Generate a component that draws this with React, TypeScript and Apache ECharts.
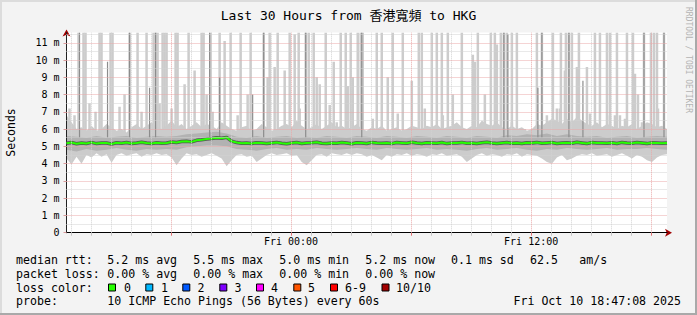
import React, { useEffect, useRef } from 'react';
import * as echarts from 'echarts';

// ---------- text ----------
const TITLE = 'Last 30 Hours from 香港寬頻 to HKG';
const Y_NAME = 'Seconds';
const WATERMARK = 'RRDTOOL / TOBI OETIKER';

// ---------- time frame (hours relative to Fri 00:00) ----------
const END_HOUR = 18 + 47 / 60 + 8 / 3600; // Fri Oct 10 18:47:08 2025
const SPAN_HOURS = 30;
const START_HOUR = END_HOUR - SPAN_HOURS;
const STEP_HOURS = 0.25; // smoke / median sample step
const Q_STEP_HOURS = 0.5; // inner-band sample step
const Y_MAX = 11.6;

const X_LABEL_HOURS = [0, 12];
const X_LABELS = ['Fri 00:00', 'Fri 12:00'];
const MINOR_X_GRID = [-11, -10, -9, -8, -7, -5, -4, -3, -2, -1, 1, 2, 3, 4, 5, 7, 8, 9, 10, 11, 13, 14, 15, 16, 17];
const MAJOR_X_GRID = [-6, 0, 6, 12, 18];
const Y_TICKS = [0, 1, 2, 3, 4, 5, 6, 7, 8, 9, 10, 11];
const MAJOR_Y_GRID = [1, 2, 3, 4, 5, 6, 7, 8, 9, 10, 11];
const MINOR_Y_GRID = [0.5, 1.5, 2.5, 3.5, 4.5, 5.5, 6.5, 7.5, 8.5, 9.5, 10.5, 11.5];

// ---------- data (ms) ----------
const MEDIAN = [
  5.18, 5.22, 5.15, 5.2, 5.17, 5.23, 5.16, 5.2, 5.19, 5.14, 5.21, 5.18, 5.22, 5.17, 5.2, 5.24, 5.19, 5.16, 5.21, 5.18,
  5.2, 5.25, 5.22, 5.28, 5.3, 5.26, 5.35, 5.38, 5.42, 5.45, 5.5, 5.47, 5.52, 5.3, 5.22, 5.18, 5.2, 5.17, 5.21, 5.19,
  5.16, 5.2, 5.23, 5.18, 5.15, 5.2, 5.22, 5.17, 5.19, 5.21, 5.24, 5.18, 5.16, 5.2, 5.18, 5.22, 5.19, 5.15, 5.21, 5.2,
  5.17, 5.23, 5.19, 5.18, 5.2, 5.16, 5.22, 5.2, 5.18, 5.24, 5.19, 5.17, 5.21, 5.2, 5.18, 5.22, 5.16, 5.2, 5.19, 5.23,
  5.18, 5.2, 5.17, 5.21, 5.24, 5.19, 5.16, 5.2, 5.22, 5.18, 5.2, 5.17, 5.21, 5.19, 5.23, 5.18, 5.2, 5.22, 5.17, 5.19,
  5.21, 5.18, 5.24, 5.2, 5.16, 5.22, 5.19, 5.2, 5.18, 5.21, 5.17, 5.23, 5.2, 5.18, 5.22, 5.19, 5.16, 5.21, 5.2, 5.18, 5.2,
];
const SMOKE_MIN = [
  4.3, 3.95, 4.4, 4.0, 4.5, 4.35, 4.6, 4.4, 4.55, 4.05, 4.5, 4.6, 4.45, 4.55, 4.6, 4.4, 4.55, 4.5, 4.6, 4.5,
  4.55, 4.35, 3.9, 4.3, 4.6, 4.5, 4.55, 4.4, 4.5, 4.6, 4.45, 4.3, 3.85, 4.2, 4.5, 4.55, 4.4, 4.45, 4.1, 4.3,
  4.5, 4.6, 4.5, 4.55, 4.6, 4.45, 4.5, 4.1, 3.9, 4.2, 4.5, 4.55, 4.4, 4.6, 4.55, 4.5, 4.6, 4.5, 4.6, 4.55,
  4.4, 4.5, 4.35, 4.2, 4.5, 4.4, 4.55, 4.5, 4.6, 4.45, 4.55, 4.5, 4.4, 4.55, 4.5, 4.6, 4.45, 4.5, 4.55, 4.4,
  4.1, 4.3, 4.5, 4.6, 4.45, 4.55, 4.5, 4.4, 4.55, 4.5, 4.6, 4.4, 4.55, 4.5, 4.45, 4.3, 4.1, 4.0, 4.35, 4.5,
  4.2, 4.3, 4.45, 4.55, 4.5, 4.6, 4.45, 4.5, 4.55, 4.4, 4.5, 4.6, 4.45, 4.3, 4.5, 4.4, 4.2, 4.1, 4.35, 4.5, 4.55,
];
const SMOKE_MAX = [
  6.8, 6.4, 6.0, 6.1, 5.9, 6.2, 5.9, 6.0, 6.3, 6.1, 5.9, 6.0, 5.8, 6.1, 6.3, 6.0, 6.2, 6.4, 6.1, 6.0,
  6.2, 6.5, 6.1, 6.3, 6.0, 6.2, 6.4, 6.1, 6.3, 6.2, 6.0, 6.4, 6.2, 6.0, 5.9, 6.1, 6.2, 5.9, 6.0, 6.3,
  6.1, 5.9, 6.0, 6.2, 6.3, 6.1, 6.5, 6.2, 6.0, 6.1, 6.3, 6.0, 6.2, 6.4, 6.1, 6.2, 6.0, 6.1, 6.3, 6.0,
  5.9, 6.1, 6.0, 6.2, 5.9, 6.0, 6.1, 5.9, 6.0, 6.2, 6.1, 6.0, 6.2, 6.1, 6.3, 6.0, 6.1, 6.2, 6.4, 6.1,
  6.0, 6.2, 6.1, 6.5, 6.3, 6.2, 6.4, 6.1, 6.0, 6.2, 6.0, 6.1, 5.9, 6.0, 6.3, 6.2, 6.4, 6.6, 6.5, 6.3,
  6.6, 6.4, 6.7, 6.5, 6.3, 6.2, 6.4, 6.1, 6.3, 6.2, 6.0, 6.2, 6.1, 6.3, 6.0, 6.2, 6.4, 6.3, 6.1, 6.2, 6.0,
];
const SMOKE_Q25 = [
  4.8, 4.7, 4.85, 4.75, 4.8, 4.9, 4.8, 4.75, 4.85, 4.8,
  4.85, 4.8, 4.95, 5.0, 5.05, 5.05, 5.0, 4.85, 4.8, 4.75,
  4.85, 4.9, 4.8, 4.85, 4.8, 4.9, 4.85, 4.8, 4.85, 4.9,
  4.85, 4.8, 4.9, 4.85, 4.8, 4.85, 4.9, 4.8, 4.85, 4.8,
  4.75, 4.85, 4.9, 4.8, 4.85, 4.9, 4.8, 4.75, 4.85, 4.8,
  4.9, 4.85, 4.8, 4.85, 4.9, 4.8, 4.85, 4.85, 4.9, 4.85, 4.8,
];
const SMOKE_Q75 = [
  5.6, 5.55, 5.5, 5.6, 5.5, 5.55, 5.6, 5.5, 5.55, 5.6,
  5.55, 5.6, 5.7, 5.75, 5.8, 5.85, 5.75, 5.55, 5.5, 5.6,
  5.5, 5.55, 5.6, 5.5, 5.55, 5.5, 5.6, 5.55, 5.5, 5.6,
  5.55, 5.5, 5.6, 5.55, 5.5, 5.6, 5.55, 5.5, 5.6, 5.55,
  5.5, 5.6, 5.55, 5.5, 5.65, 5.6, 5.7, 5.65, 5.75, 5.6,
  5.7, 5.6, 5.55, 5.6, 5.5, 5.55, 5.6, 5.5, 5.55, 5.6, 5.55,
];
// hours since start of window where outlier pings went off the scale
const SPIKE_HOURS = [
  0.6, 0.85, 0.95, 1.65, 1.75, 2.2, 2.3, 3.15, 3.55, 4.0, 4.35, 4.45, 4.55, 4.8, 4.9, 5.0, 5.45, 5.55, 6.1, 6.75,
  6.85, 7.2, 7.65, 8.2, 8.7, 9.2, 9.85, 10.15, 10.55, 11.15, 11.6, 11.95, 12.1, 12.35, 12.95, 13.7, 13.95, 14.2, 14.55, 14.7,
  14.8, 15.5, 15.75, 16.3, 16.8, 17.6, 17.75, 18.25, 18.5, 18.75, 19.05, 19.75, 20.55, 21.2, 21.4, 21.7, 21.85, 22.0, 22.25, 22.5,
  23.5, 23.75, 24.3, 24.7, 24.95, 25.1, 25.25, 25.6, 26.4, 26.65, 27.0, 27.15, 27.5, 28.0, 28.3, 28.85, 29.2, 29.35, 29.5, 29.85,
];
const SPIKE_DARK_HOURS = [0.65, 3.15, 4.45, 7.15, 9.85, 11.95, 14.75, 21.85, 23.75, 25.1, 28.85, 29.85];
const PARTIAL_HOURS = [
  0.15, 0.4, 1.15, 1.45, 2.65, 2.9, 3.75, 4.65, 5.25, 5.9, 6.4, 7.0, 7.3, 7.9, 8.55, 9.05, 9.65, 10.05, 10.4, 10.9,
  11.4, 11.65, 12.5, 12.65, 13.15, 13.35, 13.5, 14.05, 14.3, 14.8, 15.3, 16.05, 16.55, 17.25, 17.9, 18.8, 19.3, 20.3, 20.4, 20.9,
  21.5, 22.25, 22.9, 24.0, 24.5, 24.65, 24.9, 25.5, 26.0, 26.15, 27.15, 27.4, 27.65, 27.9, 28.4, 28.55, 28.75, 29.55,
];
const PARTIAL_TOP = [
  7.2, 6.8, 7.5, 7.0, 7.3, 8.0, 7.0, 7.5, 7.2, 8.6, 9.4, 8.0, 7.0, 11.1, 6.8, 8.0, 6.1, 9.0, 9.6, 9.4,
  11.5, 7.2, 9.0, 8.6, 7.4, 9.9, 6.4, 8.5, 9.0, 6.8, 6.6, 9.0, 6.9, 8.8, 7.2, 6.8, 8.0, 10.3, 9.9, 8.0,
  10.9, 6.4, 6.0, 6.8, 7.2, 7.2, 9.4, 9.6, 9.6, 6.9, 6.8, 6.8, 6.8, 6.6, 9.2, 8.0, 6.4, 7.2,
];
const PARTIAL_DARK_HOURS = [2.05, 4.15, 7.65, 9.3, 22.05, 23.55, 25.8];
const PARTIAL_DARK_TOP = [9.9, 8.4, 9.0, 8.0, 11.5, 8.4, 8.8];
const SPIKE_BASE = 5.5;

// ---------- legend ----------
const STAT_LABELS = ['median rtt:', 'packet loss:', 'loss color:', 'probe:'];
const RTT_STATS = ['5.2 ms avg', '5.5 ms max', '5.0 ms min', '5.2 ms now', '0.1 ms sd', '62.5', 'am/s'];
const LOSS_STATS = ['0.00 % avg', '0.00 % max', '0.00 % min', '0.00 % now'];
const LOSS_LABELS = ['0', '1', '2', '3', '4', '5', '6-9', '10/10'];
const LOSS_COLORS = ['#26ff00', '#00b8ff', '#0059ff', '#7e00ff', '#ff00ff', '#ff5500', '#ff0000', '#a10000'];
const PROBE_TEXT = '10 ICMP Echo Pings (56 Bytes) every 60s';
const DATE_TEXT = 'Fri Oct 10 18:47:08 2025';

// ---------- styles ----------
const MONO = '"DejaVu Sans Mono", monospace';
const TITLE_FONT = '"DejaVu Sans Mono", "Noto Sans CJK TC", monospace';
const GRID_GRAY = '#d2d2d2';
const GRID_RED = '#eaa8a8';
const LIGHT_SMOKE = '#cccccc';
const MID_SMOKE = '#b2b2b2';
const DARK_SMOKE = '#8c8c8c';
const RTT_X = [107.3, 193.3, 279.3, 365.3, 451, 530, 579.3];
const LOSS_BOX_X = [108, 145.3, 182.3, 219.3, 256, 293.3, 330, 381.5];
const LOSS_TEXT_X = [124, 161, 197.5, 234.5, 271, 308, 345, 396];
const ROW_Y = [259.5, 273.5, 287.5, 301];

const tAt = (i: number, step: number) => START_HOUR + i * step;

function buildOption() {
  const smokeX = SMOKE_MIN.map((_, i) => tAt(i, STEP_HOURS));
  const qX = SMOKE_Q25.map((_, i) => tAt(i, Q_STEP_HOURS));
  const medianPts = MEDIAN.map((v, i) => [tAt(i, STEP_HOURS), v]);

  const bandSeries = (name: string, xs: number[], lo: number[], hi: number[], color: string, z: number) => ({
    name,
    type: 'custom',
    clip: true,
    silent: true,
    z,
    encode: { x: 0, y: [1, 2] },
    data: xs.map((x, i) => [x, lo[i], hi[i]]),
    renderItem: (params: any, api: any) => {
      if (params.dataIndex !== 0) return null;
      const top = xs.map((x, i) => api.coord([x, hi[i]]));
      const bot = xs.map((x, i) => api.coord([x, lo[i]])).reverse();
      return { type: 'polygon', shape: { points: [...top, ...bot] }, style: { fill: color } };
    },
  });

  const spikeSeries = (name: string, data: number[][], color: string, width: number, z: number) => ({
    name,
    type: 'custom',
    clip: true,
    silent: true,
    z,
    encode: { x: 0, y: [1, 2] },
    data,
    renderItem: (_p: any, api: any) => {
      const top = api.coord([api.value(0), api.value(2)]);
      const bot = api.coord([api.value(0), api.value(1)]);
      return {
        type: 'rect',
        shape: { x: top[0] - width / 2, y: top[1], width, height: bot[1] - top[1] },
        style: { fill: color },
      };
    },
  });

  const gridLines = (name: string, xs: number[], ys: number[], color: string) => ({
    name,
    type: 'line',
    data: [],
    silent: true,
    z: 1,
    markLine: {
      silent: true,
      symbol: ['none', 'none'],
      label: { show: false },
      animation: false,
      lineStyle: { color, width: 1, type: [1, 1] },
      emphasis: { disabled: true },
      data: [...xs.map((h) => ({ xAxis: h })), ...ys.map((v) => ({ yAxis: v }))],
    },
  });

  const graphic: any[] = [
    { type: 'rect', shape: { x: 0, y: 0, width: 697, height: 2 }, style: { fill: '#dcdcdc' } },
    { type: 'rect', shape: { x: 0, y: 0, width: 2, height: 315 }, style: { fill: '#dcdcdc' } },
    { type: 'rect', shape: { x: 0, y: 313, width: 697, height: 2 }, style: { fill: '#a9a9a9' } },
    { type: 'rect', shape: { x: 695, y: 0, width: 2, height: 315 }, style: { fill: '#a9a9a9' } },
    {
      type: 'text', x: 348.5, y: 15,
      style: { text: TITLE, font: `13px ${TITLE_FONT}`, fill: '#000', textAlign: 'center', textVerticalAlign: 'middle' },
    },
    {
      type: 'text', x: 10.5, y: 132.5, rotation: Math.PI / 2,
      style: { text: Y_NAME, font: `11.5px ${MONO}`, fill: '#000', textAlign: 'center', textVerticalAlign: 'middle' },
    },
    {
      type: 'text', x: 688, y: 60, rotation: -Math.PI / 2,
      style: { text: WATERMARK, font: `8px ${MONO}`, fill: '#b4b4b4', textAlign: 'center', textVerticalAlign: 'middle' },
    },
  ];
  const legendText = (text: string, x: number, y: number, align = 'left') => ({
    type: 'text', x, y,
    style: { text, font: `11.6px ${MONO}`, fill: '#000', textAlign: align, textVerticalAlign: 'middle' },
  });
  STAT_LABELS.forEach((t, r) => graphic.push(legendText(t, 16, ROW_Y[r])));
  RTT_STATS.forEach((t, k) => graphic.push(legendText(t, RTT_X[k], ROW_Y[0])));
  LOSS_STATS.forEach((t, k) => graphic.push(legendText(t, RTT_X[k], ROW_Y[1])));
  LOSS_LABELS.forEach((t, k) => {
    graphic.push({
      type: 'rect',
      shape: { x: LOSS_BOX_X[k] + 0.5, y: ROW_Y[2] - 3.5, width: 7, height: 7 },
      style: { fill: LOSS_COLORS[k], stroke: '#000', lineWidth: 1 },
    });
    graphic.push(legendText(t, LOSS_TEXT_X[k], ROW_Y[2]));
  });
  graphic.push(legendText(PROBE_TEXT, RTT_X[0], ROW_Y[3]));
  graphic.push(legendText(DATE_TEXT, 681, ROW_Y[3], 'right'));

  return {
    animation: false,
    backgroundColor: '#f3f3f3',
    grid: { left: 66.5, right: 30, top: 32.4, bottom: 82.3, show: true, backgroundColor: '#ffffff', borderWidth: 0 },
    xAxis: [
      {
        type: 'value', min: START_HOUR, max: END_HOUR, position: 'bottom', z: 3,
        axisLine: { show: true, onZero: false, lineStyle: { color: '#000', width: 1 } },
        axisTick: { show: true, customValues: MINOR_X_GRID, length: 3, lineStyle: { color: '#c4c4c4' } },
        axisLabel: {
          show: true, customValues: X_LABEL_HOURS, margin: 4, fontSize: 10, fontFamily: MONO, color: '#000',
          formatter: (v: number) => X_LABELS[X_LABEL_HOURS.indexOf(Math.round(v))] ?? '',
        },
        splitLine: { show: false },
      },
      {
        type: 'value', min: START_HOUR, max: END_HOUR, position: 'bottom', z: 2,
        axisLine: {
          show: true, onZero: false, symbol: ['none', 'arrow'], symbolSize: [6, 7], symbolOffset: [0, 5],
          lineStyle: { color: '#a00000', width: 1 },
        },
        axisTick: { show: true, customValues: MAJOR_X_GRID, length: 3, lineStyle: { color: '#e07070' } },
        axisLabel: { show: false },
        splitLine: { show: false },
      },
    ],
    yAxis: [
      {
        type: 'value', min: 0, max: Y_MAX, position: 'left', z: 3,
        axisLine: { show: true, onZero: false, lineStyle: { color: '#222', width: 1 } },
        axisTick: { show: true, customValues: Y_TICKS, length: 3, lineStyle: { color: '#d89a9a' } },
        axisLabel: {
          show: true, customValues: Y_TICKS, margin: 7, fontSize: 10, fontFamily: MONO, color: '#000',
          formatter: (v: number) => (v === 0 ? '0' : `${v} m`),
        },
        splitLine: { show: false },
      },
      {
        type: 'value', min: 0, max: Y_MAX, position: 'left', z: 2,
        axisLine: {
          show: true, onZero: false, symbol: ['none', 'arrow'], symbolSize: [6, 7], symbolOffset: [0, 3],
          lineStyle: { color: '#a00000', width: 1 },
        },
        axisTick: { show: false },
        axisLabel: { show: false },
        splitLine: { show: false },
      },
    ],
    series: [
      gridLines('minorGrid', MINOR_X_GRID, MINOR_Y_GRID, GRID_GRAY),
      gridLines('majorGrid', MAJOR_X_GRID, MAJOR_Y_GRID, GRID_RED),
      spikeSeries('spikes', SPIKE_HOURS.map((h) => [START_HOUR + h, SPIKE_BASE, Y_MAX]), LIGHT_SMOKE, 2.5, 2),
      spikeSeries('partial', PARTIAL_HOURS.map((h, k) => [START_HOUR + h, SPIKE_BASE, PARTIAL_TOP[k]]), LIGHT_SMOKE, 2.5, 2),
      bandSeries('smokeOuter', smokeX, SMOKE_MIN, SMOKE_MAX, LIGHT_SMOKE, 2),
      bandSeries('smokeInner', qX, SMOKE_Q25, SMOKE_Q75, MID_SMOKE, 2),
      spikeSeries('darkSpikes', SPIKE_DARK_HOURS.map((h) => [START_HOUR + h, SPIKE_BASE, Y_MAX]), DARK_SMOKE, 1.2, 2),
      spikeSeries('darkPartial', PARTIAL_DARK_HOURS.map((h, k) => [START_HOUR + h, SPIKE_BASE, PARTIAL_DARK_TOP[k]]), DARK_SMOKE, 1.2, 2),
      {
        name: 'medianShadow', type: 'line', data: medianPts, symbol: 'none', silent: true, z: 3,
        lineStyle: { color: '#555555', width: 3.5 },
      },
      {
        name: 'median', type: 'line', data: medianPts, symbol: 'none', silent: true, z: 4,
        lineStyle: { color: '#26ff00', width: 2 },
      },
    ],
    graphic,
  };
}

export default function App() {
  const ref = useRef<HTMLDivElement>(null);
  useEffect(() => {
    document.body.style.margin = '0';
    const chart = echarts.init(ref.current!, null, { renderer: 'svg' });
    chart.setOption(buildOption() as any);
    return () => chart.dispose();
  }, []);
  return <div ref={ref} style={{ width: 697, height: 315 }} />;
}
